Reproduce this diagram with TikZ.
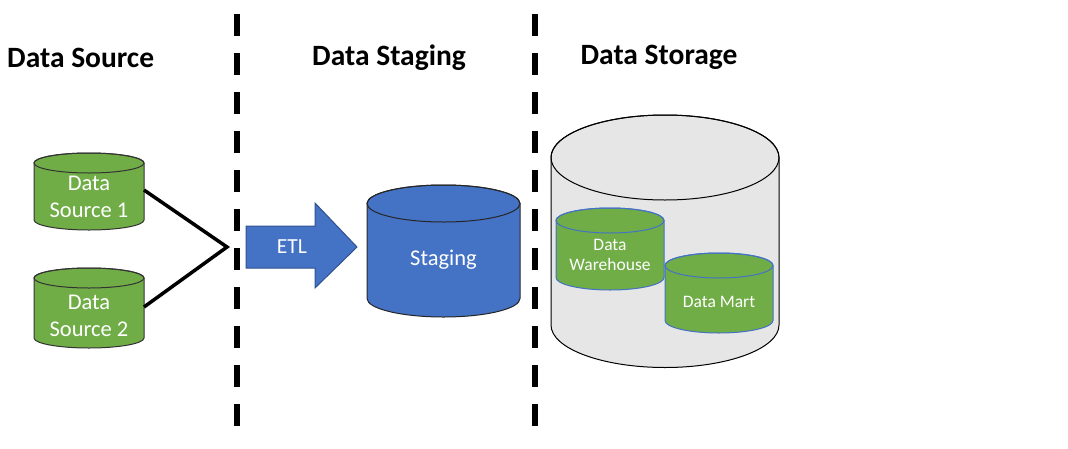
\documentclass[tikz,border=0pt]{standalone}
\usepackage{fontspec}
\setmainfont{Carlito}
\definecolor{xgreen}{HTML}{70AD47}
\definecolor{xblue}{HTML}{4472C4}
\definecolor{xblueline}{HTML}{2F528F}
\definecolor{xgray}{HTML}{E7E6E6}
% cylinder: cx, top centre y, bottom centre y, rx, ry, fill, draw, width
\newcommand{\mycyl}[8]{%
  \filldraw[fill=#6,draw=#7,line width=#8]
    ({#1-#4},#2) -- ({#1-#4},#3)
    arc[start angle=180,end angle=360,x radius=#4pt,y radius=#5pt]
    -- ({#1+#4},#2)
    arc[start angle=0,end angle=180,x radius=#4pt,y radius=#5pt] -- cycle;
  \draw[draw=#7,line width=#8] (#1,#2) ellipse[x radius=#4pt,y radius=#5pt];
}
\begin{document}
\begin{tikzpicture}[x=1pt,y=-1pt,
  title/.style={font=\fontsize{29.5}{34}\selectfont\bfseries,text=black,inner sep=0pt},
  cyltext/.style={text=white,align=center,inner sep=0pt,font=\fontsize{22.5}{27}\selectfont},
  smalltext/.style={text=white,align=center,inner sep=0pt,font=\fontsize{17.5}{20}\selectfont},
  divider/.style={line width=5.5pt,dash pattern=on 22pt off 17pt},
  joinline/.style={line width=3.5pt,black}]
\useasboundingbox (0,0) rectangle (1068,448);
% dividers
\coordinate (d1t) at (237,14); \coordinate (d1b) at (237,436);
\coordinate (d2t) at (535,14); \coordinate (d2b) at (535,436);
\draw[divider] (d1t) -- (d1b);
\draw[divider] (d2t) -- (d2b);
% titles
\node[title,anchor=west] (t1) at (7,57.5) {Data Source};
\node[title] (t2) at (389,57.5) {Data Staging};
\node[title] (t3) at (659,57.5) {Data Storage};
% sources
\mycyl{89}{163}{220}{55}{10}{xgreen}{black!80}{1pt}
\mycyl{89}{278}{338}{55}{10}{xgreen}{black!80}{1pt}
\node[cyltext] (ds1) at (89,196.5) {Data\\Source 1};
\node[cyltext] (ds2) at (89,316) {Data\\Source 2};
\coordinate (ds1e) at (144,190);
\coordinate (ds2e) at (144,307);
\coordinate (merge) at (227,247);
\draw[joinline,line join=miter] (ds1e) -- (merge) -- (ds2e);
% ETL arrow
\filldraw[fill=xblue,draw=xblueline,line width=1pt]
  (246,226) -- (315,226) -- (315,203) -- (357,247) -- (315,288) -- (315,268) -- (246,268) -- cycle;
\node[cyltext,font=\fontsize{21.5}{26}\selectfont] (etl) at (292,247) {ETL};
% staging
\mycyl{443.5}{203.5}{298.5}{76.5}{18.5}{xblue}{black!85}{1pt}
\node[cyltext] (stg) at (443.5,260) {Staging};
% storage
\mycyl{665}{157.5}{325}{114}{42.5}{xgray}{black}{1pt}
\mycyl{610}{220.5}{277.5}{54}{12.5}{xgreen}{xblue}{1pt}
\mycyl{719}{265.5}{320.5}{54}{12.5}{xgreen}{xblue}{1pt}
\node[smalltext] (dw) at (610,255) {Data\\Warehouse};
\node[smalltext] (dm) at (719,302) {Data Mart};
\end{tikzpicture}
\end{document}
